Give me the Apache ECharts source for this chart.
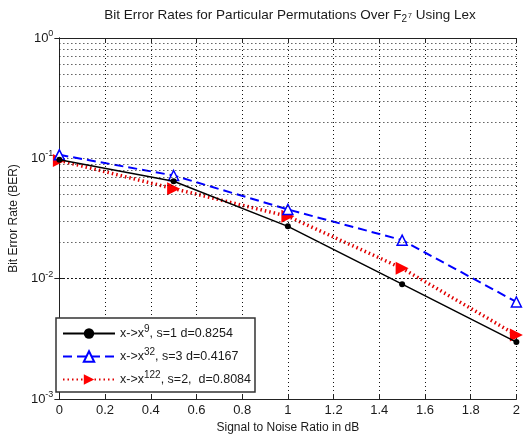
<!DOCTYPE html>
<html>
<head>
<meta charset="utf-8">
<script src="https://cdn.jsdelivr.net/npm/echarts@6/dist/echarts.min.js"></script>
<style>html,body{margin:0;padding:0;background:#fff;}#c{width:523px;height:439px;}</style>
</head>
<body>
<div id="c"></div>
<script>
var snr = [0, 0.5, 1, 1.5, 2];
var berX9 = [0.0975, 0.0645, 0.0272, 0.0090, 0.00297];
var berX32 = [0.107, 0.072, 0.0376, 0.0209, 0.0064];
var berX122 = [0.096, 0.056, 0.033, 0.0122, 0.0034];
var seriesNames = ['x->x^9, s=1 d=0.8254', 'x->x^32, s=3 d=0.4167', 'x->x^122, s=2,  d=0.8084'];
var legendRich = [
  '{n|x->x}{sup|9}{n|, s=1 d=0.8254}',
  '{n|x->x}{sup|32}{n|, s=3 d=0.4167}',
  '{n|x->x}{sup|122}{n|, s=2,  d=0.8084}'
];
var minorGrid = [];
[0.001, 0.01, 0.1].forEach(function (d) { for (var k = 2; k <= 9; k++) minorGrid.push(+(d * k).toPrecision(3)); });

var font = 'Liberation Sans, Arial, sans-serif';
var txt = '#1a1a1a';
var gridStyle = { color: '#111', width: 1, type: [1, 3] };

function pair(xs, ys) { return xs.map(function (x, i) { return [x, ys[i]]; }); }

var chart = echarts.init(document.getElementById('c'), null, { renderer: 'canvas' });
chart.setOption({
  backgroundColor: '#fff',
  animation: false,
  textStyle: { fontFamily: font, color: txt },
  title: {
    text: 'Bit Error Rates for Particular Permutations Over F{sub|2}{sup|7} Using Lex',
    left: 285, textAlign: 'center', top: 1,
    textStyle: {
      fontFamily: font, fontSize: 13.5, fontWeight: 'normal', color: txt,
      rich: {
        sub: { fontFamily: font, fontSize: 10, color: txt, padding: [8, 0, 0, 0] },
        sup: { fontFamily: font, fontSize: 7, color: txt, padding: [3, 0, 0, 1] }
      }
    }
  },
  grid: { left: 55, right: 3, top: 38, bottom: 39, containLabel: false },
  legend: {
    orient: 'vertical', left: 56, top: 318,
    backgroundColor: '#fff', borderColor: '#333', borderWidth: 1.5, borderRadius: 0,
    padding: [6, 4, 6, 6], itemGap: 7, itemWidth: 52, itemHeight: 13,
    data: seriesNames,
    formatter: function (name) { return legendRich[seriesNames.indexOf(name)]; },
    textStyle: {
      fontFamily: font, fontSize: 12.5, color: txt,
      rich: {
        n: { fontFamily: font, fontSize: 12.5, color: txt },
        sup: { fontFamily: font, fontSize: 10, color: txt, padding: [0, 0, 9, 0] }
      }
    }
  },
  xAxis: [{
    type: 'value', min: 0, max: 2, interval: 0.2, position: 'bottom',
    name: 'Signal to Noise Ratio in dB', nameLocation: 'middle', nameGap: 23,
    nameTextStyle: { fontFamily: font, fontSize: 12, color: txt },
    axisLine: { show: true, lineStyle: { color: '#222', width: 1 } },
    axisTick: { show: true, inside: true, length: 5, lineStyle: { color: '#222' } },
    axisLabel: { fontFamily: font, fontSize: 13, color: txt, margin: 5 },
    splitLine: { show: true, lineStyle: gridStyle }
  }, {
    type: 'value', min: 0, max: 2, interval: 0.2, position: 'top',
    axisLine: { show: true, lineStyle: { color: '#222', width: 1 } },
    axisTick: { show: true, inside: true, length: 5, lineStyle: { color: '#222' } },
    axisLabel: { show: false }, splitLine: { show: false }
  }],
  yAxis: [{
    type: 'log', logBase: 10, min: 0.001, max: 1, position: 'left',
    name: 'Bit Error Rate (BER)', nameLocation: 'middle', nameGap: 36,
    nameTextStyle: { fontFamily: font, fontSize: 12, color: txt },
    axisLine: { show: true, lineStyle: { color: '#222', width: 1 } },
    axisTick: { show: true, inside: true, length: 5, lineStyle: { color: '#222' } },
    axisLabel: {
      fontFamily: font, fontSize: 13, color: txt, margin: 6,
      formatter: function (v) { return '10{sup|' + Math.round(Math.log10(v)) + '}'; },
      rich: { sup: { fontFamily: font, fontSize: 9, color: txt, padding: [0, 0, 9, 0] } }
    },
    splitLine: { show: true, lineStyle: gridStyle }
  }, {
    type: 'log', logBase: 10, min: 0.001, max: 1, position: 'right',
    axisLine: { show: true, lineStyle: { color: '#222', width: 1 } },
    axisTick: { show: true, inside: true, length: 5, lineStyle: { color: '#222' } },
    axisLabel: { show: false }, splitLine: { show: false }
  }],
  series: [{
    type: 'line', name: 'minor', data: [], silent: true, legendHoverLink: false,
    markLine: {
      silent: true, symbol: 'none', label: { show: false },
      lineStyle: { color: '#111', width: 1, type: [1, 3] },
      data: minorGrid.map(function (v) { return { yAxis: v }; })
    }
  }, {
    type: 'line', name: seriesNames[2], data: pair(snr, berX122), z: 3,
    symbol: 'triangle', symbolRotate: -90, symbolSize: 13,
    itemStyle: { color: '#ff0000' },
    lineStyle: { color: '#e00000', width: 3.5, type: [1.5, 3] }
  }, {
    type: 'line', name: seriesNames[1], data: pair(snr, berX32), z: 4,
    symbol: 'triangle', symbolSize: 10,
    itemStyle: { color: '#fff', borderColor: '#0000ff', borderWidth: 1.5 },
    lineStyle: { color: '#0000ff', width: 2, type: [9, 5] }
  }, {
    type: 'line', name: seriesNames[0], data: pair(snr, berX9), z: 5,
    symbol: 'circle', symbolSize: 6,
    itemStyle: { color: '#000' },
    lineStyle: { color: '#000', width: 1.5, type: 'solid' }
  }]
});
</script>
</body>
</html>
